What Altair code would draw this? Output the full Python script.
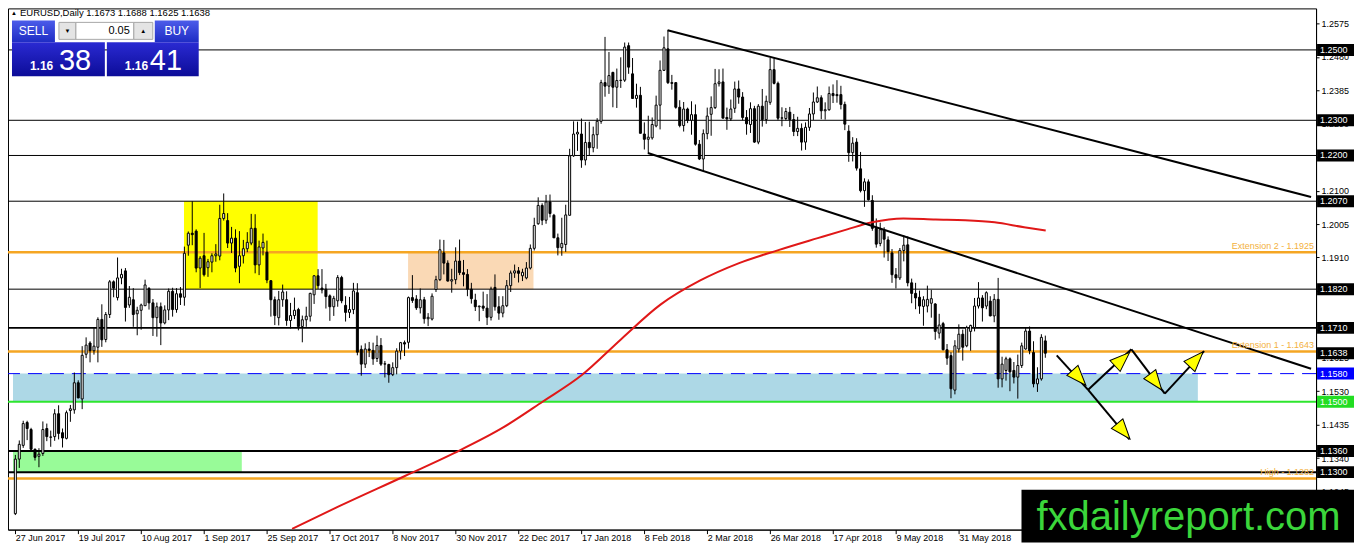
import altair as alt
import numpy as np
import pandas as pd

FONT = "Liberation Sans"
W, H = 1310, 522

# ---------------- candle data (EURUSD daily) ----------------
OPEN = [
    1.1182, 1.1337, 1.1376, 1.1441,
    1.1421, 1.1365, 1.1345, 1.1353, 1.1424,
    1.1399, 1.1401, 1.1466, 1.1412, 1.1396,
    1.1475, 1.1477, 1.1554, 1.1508, 1.1635,
    1.1667, 1.1645, 1.1655, 1.1734, 1.1677,
    1.1748, 1.1841, 1.1796, 1.1852, 1.1872,
    1.1775, 1.1790, 1.1750, 1.1760, 1.1773,
    1.1822, 1.1781, 1.1739, 1.1770, 1.1724,
    1.1761, 1.1814, 1.1762, 1.1807, 1.1797,
    1.1945, 1.1979, 1.1985, 1.1880, 1.1915,
    1.1881, 1.1897, 1.1915, 1.1914, 1.2021,
    1.2015, 1.1951, 1.1965, 1.1885, 1.1915,
    1.1935, 1.1951, 1.1993, 1.1889, 1.1937,
    1.1925, 1.1844, 1.1790, 1.1739, 1.1790,
    1.1790, 1.1731, 1.1745, 1.1762, 1.1714,
    1.1733, 1.1743, 1.1804, 1.1858, 1.1823,
    1.1820, 1.1801, 1.1770, 1.1787, 1.1853,
    1.1774, 1.1754, 1.1762, 1.1810, 1.1649,
    1.1607, 1.1650, 1.1646, 1.1623, 1.1660,
    1.1607, 1.1606, 1.1577, 1.1597, 1.1644,
    1.1668, 1.1669, 1.1796, 1.1792, 1.1767,
    1.1790, 1.1736, 1.1735, 1.1819, 1.1847,
    1.1923, 1.1894, 1.1843, 1.1847, 1.1900,
    1.1867, 1.1862, 1.1820, 1.1789, 1.1770,
    1.1772, 1.1766, 1.1740, 1.1825, 1.1770,
    1.1752, 1.1773, 1.1830, 1.1866, 1.1872,
    1.1858, 1.1852, 1.1880, 1.1936,
    1.2006, 1.2058, 1.2016, 1.2068,
    1.2030, 1.1966, 1.1938, 1.1947, 1.2030,
    1.2199, 1.2261, 1.2261, 1.2187, 1.2237,
    1.2222, 1.2259, 1.2297, 1.2407, 1.2397,
    1.2436, 1.2394, 1.2413, 1.2414, 1.2512,
    1.2432, 1.2362, 1.2371, 1.2261, 1.2246,
    1.2250, 1.2284, 1.2343, 1.2442, 1.2503,
    1.2407, 1.2407, 1.2337, 1.2285, 1.2332,
    1.2300, 1.2316, 1.2232, 1.2190, 1.2262,
    1.2317, 1.2336, 1.2404, 1.2409, 1.2308,
    1.2304, 1.2334, 1.2389, 1.2366, 1.2308,
    1.2288, 1.2333, 1.2238, 1.2340, 1.2302,
    1.2351, 1.2444, 1.2405, 1.2306, 1.2305,
    1.2323, 1.2302, 1.2268, 1.2277, 1.2238,
    1.2280, 1.2318, 1.2352, 1.2364, 1.2327,
    1.2330, 1.2376, 1.2373, 1.2373, 1.2345,
    1.2269, 1.2208, 1.2238, 1.2162, 1.2100,
    1.2125, 1.2072, 1.1993, 1.1950, 1.1988,
    1.1960, 1.1923, 1.1861, 1.1852, 1.1930,
    1.1946, 1.1838, 1.1808, 1.1797, 1.1771,
    1.1772, 1.1780, 1.1778, 1.1695, 1.1722,
    1.1648, 1.1631, 1.1533, 1.1650, 1.1692,
    1.1659, 1.1700, 1.1711, 1.1772, 1.1795,
    1.1772, 1.1786, 1.1744, 1.1791, 1.1565,
    1.1589, 1.1622, 1.1589, 1.1570, 1.1603,
    1.1650, 1.1701, 1.1640, 1.1551, 1.1565,
    1.1673,
]
HIGH = [
    1.1349, 1.1390, 1.1446, 1.1446,
    1.1426, 1.1367, 1.1368, 1.1444, 1.1438,
    1.1418, 1.1479, 1.1490, 1.1424, 1.1475,
    1.1491, 1.1583, 1.1561, 1.1658, 1.1683,
    1.1672, 1.1712, 1.1740, 1.1777, 1.1755,
    1.1846, 1.1845, 1.1910, 1.1878, 1.1880,
    1.1829, 1.1823, 1.1770, 1.1779, 1.1847,
    1.1826, 1.1792, 1.1782, 1.1782, 1.1774,
    1.1822, 1.1824, 1.1823, 1.1826, 1.1941,
    1.1984, 1.2070, 1.1990, 1.1914, 1.1980,
    1.1906, 1.1922, 1.1948, 1.2060, 1.2092,
    1.2036, 1.1997, 1.1990, 1.1985, 1.1960,
    1.1982, 1.2034, 1.2033, 1.1958, 1.1978,
    1.1958, 1.1846, 1.1799, 1.1815, 1.1833,
    1.1814, 1.1781, 1.1796, 1.1767, 1.1745,
    1.1770, 1.1810, 1.1860, 1.1877, 1.1877,
    1.1835, 1.1805, 1.1801, 1.1860, 1.1858,
    1.1800, 1.1798, 1.1838, 1.1837, 1.1660,
    1.1666, 1.1670, 1.1668, 1.1688, 1.1681,
    1.1616, 1.1608, 1.1612, 1.1652, 1.1670,
    1.1674, 1.1799, 1.1860, 1.1803, 1.1822,
    1.1798, 1.1752, 1.1808, 1.1858, 1.1961,
    1.1960, 1.1902, 1.1878, 1.1939, 1.1961,
    1.1903, 1.1877, 1.1838, 1.1807, 1.1773,
    1.1813, 1.1806, 1.1827, 1.1862, 1.1800,
    1.1800, 1.1846, 1.1873, 1.1890, 1.1883,
    1.1878, 1.1897, 1.1947, 1.2023,
    1.2081, 1.2064, 1.2088, 1.2089,
    1.2034, 1.1978, 1.2023, 1.2060, 1.2219,
    1.2297, 1.2296, 1.2305, 1.2295, 1.2296,
    1.2282, 1.2306, 1.2415, 1.2537, 1.2494,
    1.2438, 1.2447, 1.2479, 1.2521, 1.2521,
    1.2477, 1.2404, 1.2395, 1.2294, 1.2313,
    1.2308, 1.2370, 1.2470, 1.2538, 1.2556,
    1.2429, 1.2408, 1.2357, 1.2352, 1.2336,
    1.2354, 1.2345, 1.2244, 1.2274, 1.2336,
    1.2368, 1.2446, 1.2445, 1.2447, 1.2336,
    1.2359, 1.2410, 1.2413, 1.2380, 1.2329,
    1.2351, 1.2341, 1.2346, 1.2389, 1.2370,
    1.2477, 1.2476, 1.2410, 1.2337, 1.2335,
    1.2338, 1.2318, 1.2310, 1.2291, 1.2294,
    1.2335, 1.2379, 1.2396, 1.2371, 1.2351,
    1.2396, 1.2402, 1.2414, 1.2398, 1.2353,
    1.2286, 1.2252, 1.2249, 1.2210, 1.2135,
    1.2132, 1.2087, 1.2021, 1.2009, 1.1996,
    1.1970, 1.1934, 1.1880, 1.1937, 1.1973,
    1.1970, 1.1850, 1.1838, 1.1816, 1.1800,
    1.1830, 1.1818, 1.1780, 1.1750, 1.1727,
    1.1664, 1.1641, 1.1675, 1.1720, 1.1705,
    1.1716, 1.1719, 1.1795, 1.1840, 1.1803,
    1.1814, 1.1800, 1.1806, 1.1852, 1.1628,
    1.1628, 1.1626, 1.1613, 1.1634, 1.1668,
    1.1711, 1.1714, 1.1672, 1.1598, 1.1692,
    1.1688,
]
LOW = [
    1.1178, 1.1312, 1.1369, 1.1391,
    1.1358, 1.1333, 1.1314, 1.1346, 1.1388,
    1.1372, 1.1389, 1.1393, 1.1370, 1.1393,
    1.1443, 1.1466, 1.1510, 1.1479, 1.1624,
    1.1612, 1.1634, 1.1612, 1.1656, 1.1669,
    1.1738, 1.1797, 1.1788, 1.1834, 1.1728,
    1.1767, 1.1713, 1.1689, 1.1705, 1.1772,
    1.1762, 1.1687, 1.1685, 1.1661, 1.1720,
    1.1732, 1.1742, 1.1753, 1.1775, 1.1773,
    1.1915, 1.1945, 1.1868, 1.1823, 1.1856,
    1.1855, 1.1868, 1.1898, 1.1902, 1.2015,
    1.1937, 1.1923, 1.1868, 1.1837, 1.1893,
    1.1925, 1.1945, 1.1865, 1.1860, 1.1916,
    1.1837, 1.1742, 1.1718, 1.1717, 1.1770,
    1.1716, 1.1708, 1.1735, 1.1703, 1.1669,
    1.1713, 1.1728, 1.1778, 1.1820, 1.1808,
    1.1765, 1.1730, 1.1744, 1.1770, 1.1780,
    1.1728, 1.1738, 1.1749, 1.1632, 1.1574,
    1.1596, 1.1627, 1.1605, 1.1613, 1.1602,
    1.1569, 1.1554, 1.1573, 1.1578, 1.1620,
    1.1630, 1.1651, 1.1781, 1.1761, 1.1751,
    1.1722, 1.1715, 1.1731, 1.1812, 1.1843,
    1.1862, 1.1842, 1.1810, 1.1834, 1.1860,
    1.1828, 1.1800, 1.1779, 1.1758, 1.1729,
    1.1758, 1.1718, 1.1731, 1.1759, 1.1733,
    1.1740, 1.1769, 1.1812, 1.1852, 1.1839,
    1.1843, 1.1848, 1.1876, 1.1930,
    1.2003, 1.2002, 1.2006, 1.2024,
    1.1966, 1.1916, 1.1915, 1.1926, 1.2030,
    1.2196, 1.2213, 1.2165, 1.2172, 1.2201,
    1.2209, 1.2219, 1.2290, 1.2367, 1.2375,
    1.2337, 1.2335, 1.2392, 1.2409, 1.2432,
    1.2362, 1.2336, 1.2263, 1.2217, 1.2206,
    1.2245, 1.2280, 1.2274, 1.2440, 1.2403,
    1.2387, 1.2333, 1.2280, 1.2268, 1.2292,
    1.2259, 1.2228, 1.2187, 1.2155, 1.2246,
    1.2256, 1.2332, 1.2396, 1.2306, 1.2273,
    1.2298, 1.2321, 1.2347, 1.2300, 1.2259,
    1.2264, 1.2236, 1.2232, 1.2282, 1.2290,
    1.2344, 1.2402, 1.2300, 1.2283, 1.2300,
    1.2281, 1.2255, 1.2255, 1.2214, 1.2216,
    1.2270, 1.2301, 1.2349, 1.2303, 1.2302,
    1.2327, 1.2349, 1.2350, 1.2331, 1.2272,
    1.2182, 1.2183, 1.2157, 1.2095, 1.2054,
    1.2072, 1.1986, 1.1938, 1.1942, 1.1910,
    1.1900, 1.1838, 1.1822, 1.1846, 1.1899,
    1.1828, 1.1780, 1.1763, 1.1750, 1.1716,
    1.1754, 1.1739, 1.1676, 1.1680, 1.1646,
    1.1605, 1.1510, 1.1521, 1.1640, 1.1617,
    1.1655, 1.1645, 1.1700, 1.1765, 1.1728,
    1.1763, 1.1743, 1.1726, 1.1540, 1.1541,
    1.1560, 1.1530, 1.1552, 1.1509, 1.1596,
    1.1648, 1.1635, 1.1541, 1.1528, 1.1560,
    1.1625,
]
CLOSE = [
    1.1337, 1.1379, 1.1438, 1.1424,
    1.1365, 1.1342, 1.1351, 1.1421, 1.1401,
    1.1400, 1.1466, 1.1410, 1.1397, 1.1469,
    1.1480, 1.1554, 1.1511, 1.1632, 1.1661,
    1.1645, 1.1658, 1.1734, 1.1676, 1.1748,
    1.1841, 1.1823, 1.1852, 1.1862, 1.1768,
    1.1797, 1.1748, 1.1760, 1.1775, 1.1832,
    1.1781, 1.1739, 1.1770, 1.1724, 1.1761,
    1.1814, 1.1762, 1.1807, 1.1797, 1.1922,
    1.1979, 1.1975, 1.1880, 1.1908, 1.1861,
    1.1898, 1.1915, 1.1920, 1.2021, 1.2035,
    1.1951, 1.1965, 1.1880, 1.1915, 1.1935,
    1.1953, 1.1993, 1.1889, 1.1940, 1.1953,
    1.1846, 1.1790, 1.1745, 1.1790, 1.1812,
    1.1731, 1.1745, 1.1760, 1.1714, 1.1733,
    1.1743, 1.1808, 1.1858, 1.1830, 1.1818,
    1.1799, 1.1770, 1.1794, 1.1853, 1.1787,
    1.1754, 1.1762, 1.1815, 1.1641, 1.1607,
    1.1650, 1.1646, 1.1622, 1.1660, 1.1607,
    1.1608, 1.1577, 1.1597, 1.1644, 1.1668,
    1.1664, 1.1796, 1.1788, 1.1767, 1.1790,
    1.1736, 1.1740, 1.1800, 1.1847, 1.1932,
    1.1894, 1.1843, 1.1847, 1.1900, 1.1867,
    1.1862, 1.1820, 1.1793, 1.1770, 1.1772,
    1.1766, 1.1740, 1.1820, 1.1770, 1.1752,
    1.1773, 1.1830, 1.1866, 1.1872, 1.1865,
    1.1868, 1.1880, 1.1936, 1.2001,
    1.2058, 1.2016, 1.2068, 1.2035,
    1.1966, 1.1938, 1.1950, 1.2031, 1.2199,
    1.2261, 1.2266, 1.2187, 1.2237, 1.2222,
    1.2259, 1.2297, 1.2407, 1.2397, 1.2427,
    1.2394, 1.2413, 1.2414, 1.2508, 1.2451,
    1.2362, 1.2371, 1.2263, 1.2246, 1.2252,
    1.2288, 1.2343, 1.2442, 1.2506, 1.2407,
    1.2405, 1.2337, 1.2285, 1.2332, 1.2300,
    1.2316, 1.2232, 1.2190, 1.2262, 1.2312,
    1.2336, 1.2404, 1.2409, 1.2306, 1.2304,
    1.2332, 1.2389, 1.2366, 1.2308, 1.2290,
    1.2333, 1.2238, 1.2340, 1.2302, 1.2354,
    1.2444, 1.2405, 1.2306, 1.2307, 1.2325,
    1.2302, 1.2268, 1.2277, 1.2238, 1.2280,
    1.2318, 1.2352, 1.2364, 1.2327, 1.2330,
    1.2376, 1.2370, 1.2370, 1.2345, 1.2289,
    1.2208, 1.2235, 1.2164, 1.2100, 1.2125,
    1.2074, 1.1993, 1.1948, 1.1989, 1.1962,
    1.1927, 1.1861, 1.1852, 1.1930, 1.1945,
    1.1838, 1.1808, 1.1795, 1.1772, 1.1790,
    1.1791, 1.1793, 1.1700, 1.1718, 1.1648,
    1.1624, 1.1537, 1.1659, 1.1692, 1.1655,
    1.1711, 1.1717, 1.1772, 1.1795, 1.1767,
    1.1810, 1.1744, 1.1791, 1.1565, 1.1607,
    1.1622, 1.1585, 1.1570, 1.1603, 1.1659,
    1.1701, 1.1645, 1.1551, 1.1565, 1.1683,
    1.1638,
]

# ---------------- axes ----------------
X_TICK_BARS = [0, 16, 32, 48, 64, 80, 96, 112, 128, 144, 160, 176, 192, 208, 224, 240]
X_TICK_LABELS = ["27 Jun 2017", "19 Jul 2017", "10 Aug 2017", "1 Sep 2017", "25 Sep 2017",
                 "17 Oct 2017", "8 Nov 2017", "30 Nov 2017", "22 Dec 2017", "17 Jan 2018",
                 "8 Feb 2018", "2 Mar 2018", "26 Mar 2018", "17 Apr 2018", "9 May 2018",
                 "31 May 2018"]
Y_TICKS = [1.1245, 1.1340, 1.1435, 1.1530, 1.1625, 1.1720, 1.1815, 1.1910,
           1.2005, 1.2100, 1.2195, 1.2290, 1.2385, 1.2480, 1.2575]
X_DOMAIN = [-0.6, 329.6]
Y_DOMAIN = [1.11366, 1.2618]

# ---------------- 200-day moving average (red) ----------------
MA_BAR = [70.4, 81.6, 99.1, 111.6, 124.1, 134.1, 144.1, 154.1, 164.1, 174.1, 184.1,
          194.1, 204.1, 211.6, 217.9, 225.9, 234.1, 241.6, 249.1, 256.6, 262.1]
MA_VALUE = [1.1139, 1.1199, 1.1289, 1.1354, 1.1427, 1.1500, 1.1576, 1.1678, 1.1776, 1.1844,
            1.1894, 1.1931, 1.1965, 1.1990, 1.2010, 1.2021, 1.2018, 1.2016, 1.2010, 1.1996,
            1.1987]

# ---------------- zones ----------------
ZONE_NAME = ["Aug-Sep range", "Nov-Dec range", "Support zone", "Low zone"]
ZONE_BAR0 = [42.9, 99.9, -0.6, -0.6]
ZONE_BAR1 = [76.9, 131.8, 300.8, 57.6]
ZONE_LO = [1.1820, 1.1820, 1.1500, 1.1300]
ZONE_HI = [1.2070, 1.1925, 1.1580, 1.1360]
ZONE_COLORS = ["#ffff00", "#fad9b5", "#add8e6", "#98fb98"]

# ---------------- horizontal levels ----------------
LEVEL_THIN = [1.2500, 1.2300, 1.2200, 1.2070, 1.1820]
LEVEL_THICK = [1.1710, 1.1360, 1.1300]
LEVEL_ORANGE = [1.1925, 1.1643, 1.1282]
ORANGE_LABELS = ["Extension 2 - 1.1925", "Extension 1 - 1.1643", "High - 1.1282"]
LEVEL_GREEN = [1.1500]
LEVEL_BLUE = [1.1580]

PRICE_BOX_VALUE = [1.2500, 1.2300, 1.2200, 1.2070, 1.1820, 1.1710, 1.1638, 1.1580, 1.1500, 1.1360, 1.1300]
PRICE_BOX_KIND = ["level", "level", "level", "level", "level", "level", "bid", "dashed", "support", "level", "level"]

# ---------------- trend lines ----------------
TREND_BAR0 = [165.9, 160.9]
TREND_PRICE0 = [1.2556, 1.2207]
TREND_BAR1 = [329.6, 329.6]
TREND_PRICE1 = [1.2082, 1.1594]

# ---------------- projected path arrows ----------------
ARROW_BAR0 = [264.9, 272.9, 283.9, 292.4, 272.9]
ARROW_PRICE0 = [1.1632, 1.1534, 1.1649, 1.1523, 1.1534]
ARROW_BAR1 = [272.9, 283.9, 292.4, 302.4, 283.4]
ARROW_PRICE1 = [1.1534, 1.1649, 1.1523, 1.1644, 1.1393]
HEAD_BAR = [270.6, 281.6, 290.1, 300.4, 281.9]
HEAD_PRICE = [1.1568, 1.1621, 1.1556, 1.1621, 1.1416]
HEAD_ANGLE = [138, 47, 143, 43, 140]

assert len(OPEN) == len(HIGH) == len(LOW) == len(CLOSE) == 263

# ================= build chart =================
xs = alt.Scale(domain=X_DOMAIN, nice=False, zero=False)
ys = alt.Scale(domain=Y_DOMAIN, nice=False, zero=False)

label_expr = "".join(f"datum.value == {b} ? '{t}' : " for b, t in zip(X_TICK_BARS, X_TICK_LABELS)) + "''"
x_axis = alt.Axis(values=X_TICK_BARS, labelExpr=label_expr, title=None, grid=False,
                  labelAlign="left", labelBaseline="top", labelFont=FONT, labelFontSize=9,
                  labelColor="#000000", tickColor="#000000", domainColor="#000000",
                  tickSize=4, labelPadding=0, labelOverlap=False, labelFlush=False)
y_axis = alt.Axis(values=Y_TICKS, format=".4f", orient="right", title=None, grid=False,
                  labelFont=FONT, labelFontSize=9, labelColor="#000000", tickColor="#000000",
                  domainColor="#000000", tickSize=3, labelPadding=2, labelOverlap=False,
                  labelFlush=False)


def X(field):
    return alt.X(f"{field}:Q", scale=xs, axis=x_axis)


def Y(field):
    return alt.Y(f"{field}:Q", scale=ys, axis=y_axis)


candles = pd.DataFrame({"bar": np.arange(len(OPEN)), "open": OPEN, "high": HIGH,
                        "low": LOW, "close": CLOSE})
candles["dir"] = np.where(candles["close"] >= candles["open"], "up", "down")

ONE = pd.DataFrame({"k": [0]})

layers = []

wicks = alt.Chart(candles).mark_rule(color="#000000", strokeWidth=1).encode(
    x=X("bar"), y=Y("low"), y2=alt.Y2("high"))

# zones
zones = pd.DataFrame({"zone": ZONE_NAME, "b0": ZONE_BAR0, "b1": ZONE_BAR1, "lo": ZONE_LO, "hi": ZONE_HI})
layers.append(alt.Chart(zones).mark_rect(clip=True).encode(
    x=X("b0"), x2=alt.X2("b1"), y=Y("lo"), y2=alt.Y2("hi"),
    color=alt.Color("zone:N", scale=alt.Scale(domain=ZONE_NAME, range=ZONE_COLORS), legend=None)))


def level_layer(values, color, width, dash=None):
    kw = dict(color=color, strokeWidth=width, clip=True)
    if dash:
        kw["strokeDash"] = dash
    return alt.Chart(pd.DataFrame({"p": values})).mark_rule(**kw).encode(y=Y("p"))


layers.append(level_layer(LEVEL_THIN, "#000000", 1))
layers.append(level_layer(LEVEL_THICK, "#000000", 2))
layers.append(level_layer(LEVEL_ORANGE, "#f5a623", 2.5))
layers.append(level_layer(LEVEL_GREEN, "#2ee62e", 2))
layers.append(level_layer(LEVEL_BLUE, "#0000ff", 1, [14, 8]))

# candles
layers.append(wicks)
layers.append(alt.Chart(candles).mark_bar(width=2, stroke="#000000", strokeWidth=1).encode(
    x=X("bar"), y=Y("open"), y2=alt.Y2("close"),
    fill=alt.Fill("dir:N", scale=alt.Scale(domain=["up", "down"], range=["#ffffff", "#000000"]), legend=None)))

# moving average
layers.append(alt.Chart(pd.DataFrame({"b": MA_BAR, "v": MA_VALUE})).mark_line(
    color="#e01818", strokeWidth=2, clip=True, interpolate="monotone").encode(x=X("b"), y=Y("v")))

# trend lines
trend = pd.DataFrame({"b0": TREND_BAR0, "p0": TREND_PRICE0, "b1": TREND_BAR1, "p1": TREND_PRICE1})
layers.append(alt.Chart(trend).mark_rule(color="#000000", strokeWidth=2, clip=True).encode(
    x=X("b0"), x2=alt.X2("b1"), y=Y("p0"), y2=alt.Y2("p1")))

# orange labels
layers.append(alt.Chart(pd.DataFrame({"p": LEVEL_ORANGE, "t": ORANGE_LABELS})).mark_text(
    align="right", baseline="middle", dy=-6, font=FONT, fontSize=9, color="#f3b13c").encode(
    x=alt.value(W - 2), y=Y("p"), text="t:N"))

# arrows
arrows = pd.DataFrame({"b0": ARROW_BAR0, "p0": ARROW_PRICE0, "b1": ARROW_BAR1, "p1": ARROW_PRICE1})
layers.append(alt.Chart(arrows).mark_rule(color="#000000", strokeWidth=2).encode(
    x=X("b0"), x2=alt.X2("b1"), y=Y("p0"), y2=alt.Y2("p1")))
heads = pd.DataFrame({"b": HEAD_BAR, "p": HEAD_PRICE, "a": HEAD_ANGLE})
layers.append(alt.Chart(heads).mark_point(
    shape="M0,-1L0.75,1L-0.75,1Z", filled=True, fill="#ffff00", stroke="#000000",
    strokeWidth=1, size=400, opacity=1).encode(
    x=X("b"), y=Y("p"), angle=alt.Angle("a:Q", scale=None)))

# right-axis price boxes
boxes = pd.DataFrame({"p": PRICE_BOX_VALUE, "kind": PRICE_BOX_KIND})
boxes["t"] = [f"{v:.4f}" for v in PRICE_BOX_VALUE]
layers.append(alt.Chart(boxes).mark_tick(orient="horizontal", size=37, thickness=12, opacity=1).encode(
    x=alt.value(W + 19.5), y=Y("p"),
    color=alt.Color("kind:N", scale=alt.Scale(domain=["level", "bid", "dashed", "support"],
                                              range=["#000000", "#000000", "#0000ff", "#22dd22"]),
                    legend=None)))
layers.append(alt.Chart(boxes).mark_text(align="left", baseline="middle", font=FONT, fontSize=9,
                                         color="#ffffff").encode(
    x=alt.value(W + 4), y=Y("p"), text="t:N"))

# watermark
layers.append(alt.Chart(ONE).mark_rect(color="#000000").encode(
    x=alt.value(1015), x2=alt.value(W + 38), y=alt.value(482), y2=alt.value(H + 13)))
layers.append(alt.Chart(ONE).mark_text(text="fxdailyreport.com", align="left", baseline="alphabetic",
                                       font=FONT, fontSize=40, color="#3bd63b").encode(
    x=alt.value(1030), y=alt.value(522)))


# trading panel
def box(x0, x1, y0, y1, **style):
    return alt.Chart(ONE).mark_rect(**style).encode(
        x=alt.value(x0), x2=alt.value(x1), y=alt.value(y0), y2=alt.value(y1))


def label(x, y, text, **style):
    style.setdefault("font", FONT)
    return alt.Chart(ONE).mark_text(text=text, **style).encode(x=alt.value(x), y=alt.value(y))


btn_grad = alt.LinearGradient(gradient="linear", x1=0, x2=0, y1=0, y2=1, stops=[
    alt.GradientStop(color="#4c5cea", offset=0), alt.GradientStop(color="#1e2cc4", offset=1)])
big_grad = alt.LinearGradient(gradient="linear", x1=0, x2=0, y1=0, y2=1, stops=[
    alt.GradientStop(color="#2a2ad2", offset=0), alt.GradientStop(color="#0c0c98", offset=1)])

layers.append(box(4, 47, 12, 34, fill=btn_grad))
layers.append(box(147, 191, 12, 34, fill=btn_grad))
layers.append(box(49, 146, 12, 34, fill="#ffffff"))
layers.append(box(51, 68, 14, 31, fill="#e4e4e4", stroke="#a8a8a8", strokeWidth=1))
layers.append(box(68, 126, 14, 31, fill="#ffffff", stroke="#a8a8a8", strokeWidth=1))
layers.append(box(126, 145, 14, 31, fill="#e4e4e4", stroke="#a8a8a8", strokeWidth=1))
layers.append(box(4, 97, 34, 68, fill=big_grad))
layers.append(box(99, 191, 34, 68, fill=big_grad))
layers.append(label(25.5, 23, "SELL", align="center", baseline="middle", fontSize=12, color="#ffffff"))
layers.append(label(169, 23, "BUY", align="center", baseline="middle", fontSize=12, color="#ffffff"))
layers.append(label(122, 23, "0.05", align="right", baseline="middle", fontSize=11, color="#000000"))
layers.append(label(59.5, 23, "▼", align="center", baseline="middle", fontSize=6, color="#000000"))
layers.append(label(135.5, 22.5, "▲", align="center", baseline="middle", fontSize=6, color="#000000"))
layers.append(label(22, 62, "1.16", align="left", baseline="alphabetic", fontSize=12,
                    fontWeight="bold", color="#ffffff"))
layers.append(label(51, 62, "38", align="left", baseline="alphabetic", fontSize=29, color="#ffffff"))
layers.append(label(117, 62, "1.16", align="left", baseline="alphabetic", fontSize=12,
                    fontWeight="bold", color="#ffffff"))
layers.append(label(142, 62, "41", align="left", baseline="alphabetic", fontSize=29, color="#ffffff"))

# chart caption inside the plot
layers.append(label(3, 5, "▲", align="left", baseline="middle", fontSize=6, color="#000000"))
layers.append(label(12, 5, "EURUSD,Daily  1.1673 1.1688 1.1625 1.1638", align="left",
                    baseline="middle", fontSize=9.5, color="#000000"))

chart = (alt.layer(*layers)
         .resolve_scale(color="independent")
         .properties(width=W, height=H, padding=0)
         .configure(background="#ffffff")
         .configure_view(stroke="#000000", strokeWidth=1))

chart.save("out.html", embed_options={"renderer": "svg", "actions": False})
